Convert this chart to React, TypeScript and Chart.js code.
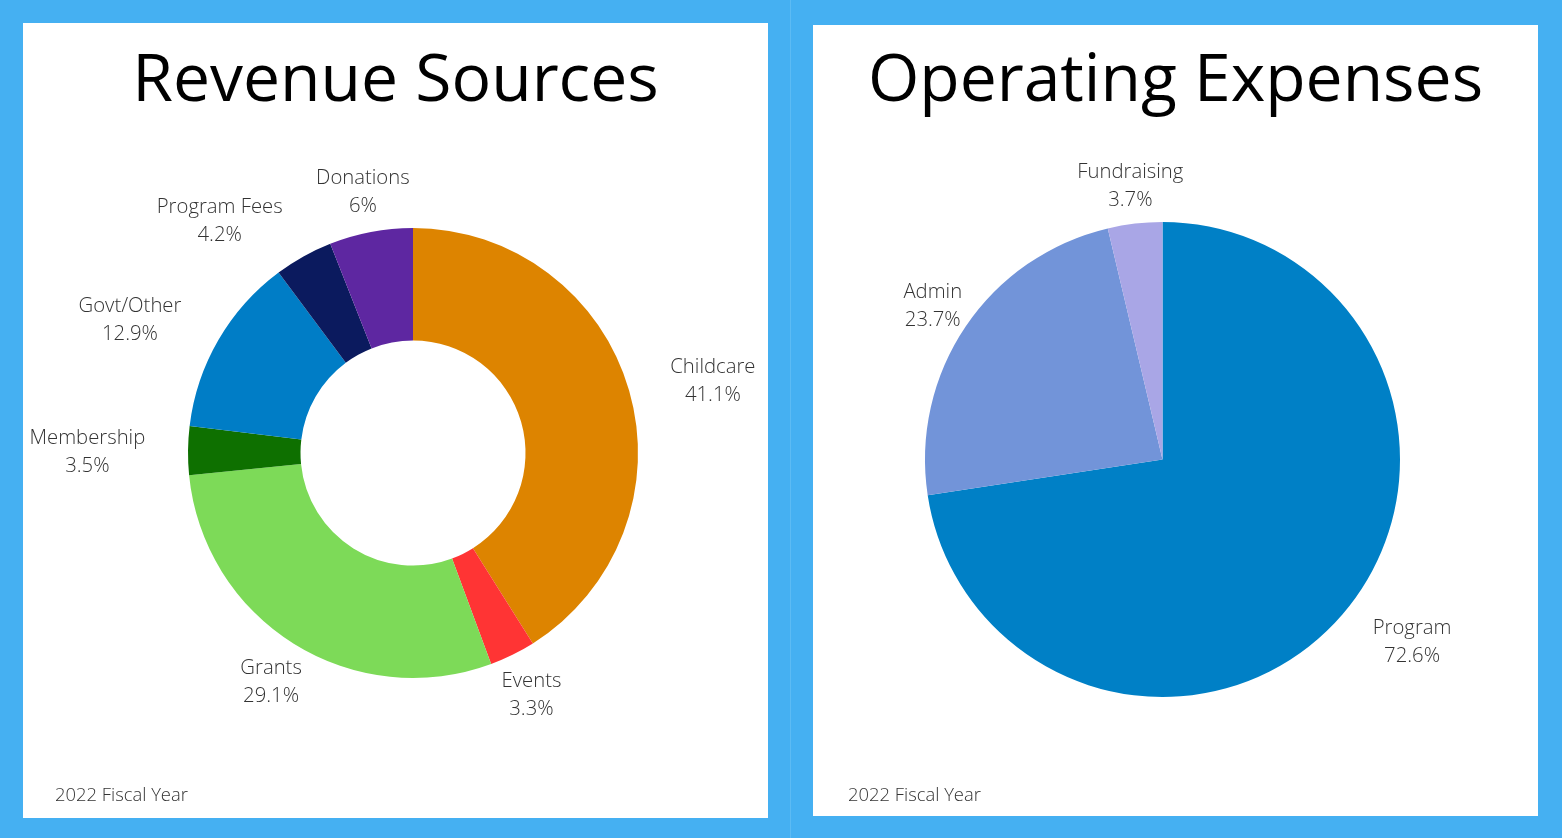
import React, { useEffect, useRef } from 'react';
import { Chart, registerables } from 'chart.js';

Chart.register(...registerables);

const revenueCategories = ['Childcare', 'Events', 'Grants', 'Membership', 'Govt/Other', 'Program Fees', 'Donations'];
const revenueValues = [41.1, 3.3, 29.1, 3.5, 12.9, 4.2, 6];
const revenueColors = ['#DD8400', '#FF3434', '#7DDA58', '#0E7000', '#007DC6', '#0B1A5E', '#5E27A1'];

const expenseCategories = ['Program', 'Admin', 'Fundraising'];
const expenseValues = [72.6, 23.7, 3.7];
const expenseColors = ['#0080C6', '#7294D9', '#A9A6E6'];

const BLUE = '#45B0F2';
const LABEL_FONT = '300 20.3px "Open Sans"';

const sliceLabels = {
  id: 'sliceLabels',
  afterDatasetsDraw(chart: any, _args: any, opts: any) {
    const ctx = chart.ctx;
    const meta = chart.getDatasetMeta(0);
    const labels = chart.data.labels as string[];
    const values = chart.data.datasets[0].data as number[];
    const ratio = opts.ratio || 1.19;
    ctx.save();
    ctx.font = LABEL_FONT;
    ctx.fillStyle = '#333333';
    ctx.textAlign = 'center';
    ctx.textBaseline = 'middle';
    meta.data.forEach((arc: any, i: number) => {
      const p = arc.getProps(['x', 'y', 'startAngle', 'endAngle', 'outerRadius'], true);
      const mid = (p.startAngle + p.endAngle) / 2;
      const r = p.outerRadius * ratio;
      const ax = p.x + r * Math.cos(mid);
      const ay = p.y + r * Math.sin(mid);
      const lines = [labels[i], `${values[i]}%`];
      const w = Math.max(...lines.map((l) => ctx.measureText(l).width));
      const hw = w / 2;
      const hh = 22;
      let cx = ax;
      const nx = Math.max(cx - hw, Math.min(p.x, cx + hw));
      const ny = Math.max(ay - hh, Math.min(p.y, ay + hh));
      if (Math.hypot(nx - p.x, ny - p.y) < p.outerRadius + 1) {
        cx = Math.cos(mid) >= 0 ? ax + hw : ax - hw;
      }
      ctx.fillText(lines[0], cx, ay - 12);
      ctx.fillText(lines[1], cx, ay + 16);
    });
    ctx.restore();
  },
};

const panelText = {
  id: 'panelText',
  afterDraw(chart: any, _args: any, opts: any) {
    const ctx = chart.ctx;
    ctx.save();
    ctx.fillStyle = '#000';
    ctx.textAlign = 'center';
    ctx.textBaseline = 'alphabetic';
    ctx.font = '400 66px "Open Sans"';
    ctx.fillText(opts.title, chart.width / 2, opts.titleBaseline);
    ctx.fillStyle = '#333333';
    ctx.textAlign = 'left';
    ctx.font = '300 18.4px "Open Sans"';
    ctx.fillText(opts.footer, opts.footerX, opts.footerBaseline);
    ctx.restore();
  },
};

function PieChart(props: {
  labels: string[];
  values: number[];
  colors: string[];
  cutout: string;
  ratio: number;
  width: number;
  height: number;
  padding: { left: number; right: number; top: number; bottom: number };
  title: string;
  titleBaseline: number;
  footerX: number;
  footerBaseline: number;
}) {
  const ref = useRef<HTMLCanvasElement>(null);
  useEffect(() => {
    if (!ref.current) return;
    const chart = new Chart(ref.current, {
      type: 'doughnut',
      data: {
        labels: props.labels,
        datasets: [
          {
            data: props.values,
            backgroundColor: props.colors,
            borderWidth: 0,
          },
        ],
      },
      options: {
        responsive: false,
        animation: false,
        cutout: props.cutout,
        layout: { padding: props.padding },
        plugins: {
          legend: { display: false },
          tooltip: { enabled: false },
          sliceLabels: { ratio: props.ratio },
          panelText: {
            title: props.title,
            titleBaseline: props.titleBaseline,
            footer: '2022 Fiscal Year',
            footerX: props.footerX,
            footerBaseline: props.footerBaseline,
          },
        } as any,
      },
      plugins: [sliceLabels, panelText],
    });
    return () => chart.destroy();
  }, []);
  return <canvas ref={ref} width={props.width} height={props.height} style={{ display: 'block' }} />;
}

export default function App() {
  return (
    <div style={{ position: 'fixed', left: 0, top: 0, width: 1562, height: 838, background: BLUE, overflow: 'hidden' }}>
      <div style={{ position: 'absolute', left: 790, top: 0, width: 1, height: 838, background: '#5CBBF4' }} />
      <div style={{ position: 'absolute', left: 23, top: 23, width: 745, height: 795, background: '#fff' }}>
        <PieChart
          labels={revenueCategories}
          values={revenueValues}
          colors={revenueColors}
          cutout="50%"
          ratio={1.19}
          width={745}
          height={795}
          padding={{ left: 165, right: 130, top: 205, bottom: 140 }}
          title="Revenue Sources"
          titleBaseline={78}
          footerX={32}
          footerBaseline={778}
        />
      </div>
      <div style={{ position: 'absolute', left: 813, top: 25, width: 725, height: 791, background: '#fff' }}>
        <PieChart
          labels={expenseCategories}
          values={expenseValues}
          colors={expenseColors}
          cutout="0%"
          ratio={1.167}
          width={725}
          height={791}
          padding={{ left: 112, right: 138, top: 197, bottom: 119 }}
          title="Operating Expenses"
          titleBaseline={76}
          footerX={35}
          footerBaseline={776}
        />
      </div>
    </div>
  );
}
